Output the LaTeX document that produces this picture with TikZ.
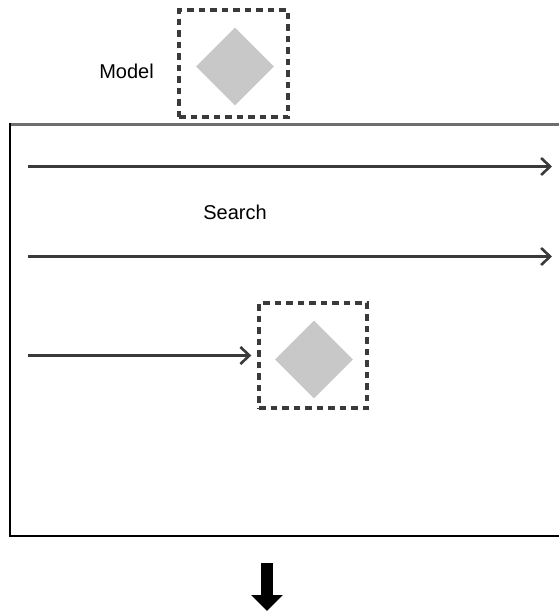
\documentclass[tikz,border=0pt]{standalone}
\usepackage{fontspec}
\setmainfont{Liberation Sans}
\usetikzlibrary{arrows.meta,shapes.geometric}
\definecolor{linegray}{HTML}{3A3A3A}
\definecolor{rimgray}{HTML}{6E6E6E}
\definecolor{diagray}{HTML}{C8C8C8}
\begin{document}
\begin{tikzpicture}[x=1pt,y=-1pt,
  dashbox/.style={draw=linegray,line width=3.4pt,dash pattern=on 6.5pt off 5pt,minimum width=109pt,minimum height=107pt,inner sep=0pt},
  diam/.style={diamond,fill=diagray,minimum width=78pt,minimum height=78pt,inner sep=0pt},
  flow/.style={draw=linegray,line width=2.8pt,-{Straight Barb[length=9pt,width=17pt,line width=2.6pt]}},
  lbl/.style={font=\fontsize{20}{24}\selectfont,inner sep=0pt}
]
\useasboundingbox (0,0) rectangle (558,611);
\fill[white] (0,0) rectangle (558,611);
% main frame
\draw[rimgray,line width=3pt] (10,124) -- (570,124);
\draw[black,line width=2.8pt] (10,123) -- (10,536) -- (570,536);
% model box
\node[dashbox] (mbox) at (233.5,63.5) {};
\node[diam] (mdia) at (235,66.5) {};
\node[lbl] (model) at (126.5,71) {Model};
% search label
\node[lbl] (search) at (235,212) {Search};
% arrows
\coordinate (a1s) at (28,166.5);
\coordinate (a1e) at (552,166.5);
\coordinate (a2s) at (28,256.5);
\coordinate (a2e) at (552,256.5);
\coordinate (a3s) at (28,355.5);
\draw[flow] (a1s) -- (a1e);
\draw[flow] (a2s) -- (a2e);
% inner box
\node[dashbox,minimum width=108pt,minimum height=105pt] (ibox) at (313,355.5) {};
\node[diam] (idia) at (314,359.5) {};
\draw[flow] (a3s) -- ([xshift=-6pt]ibox.west);
% down arrow
\coordinate (ds) at (267,563);
\coordinate (de) at (267,611);
\draw[black,line width=12.5pt,-{Triangle[length=16pt,width=31pt]}] (ds) -- (de);
\end{tikzpicture}
\end{document}
